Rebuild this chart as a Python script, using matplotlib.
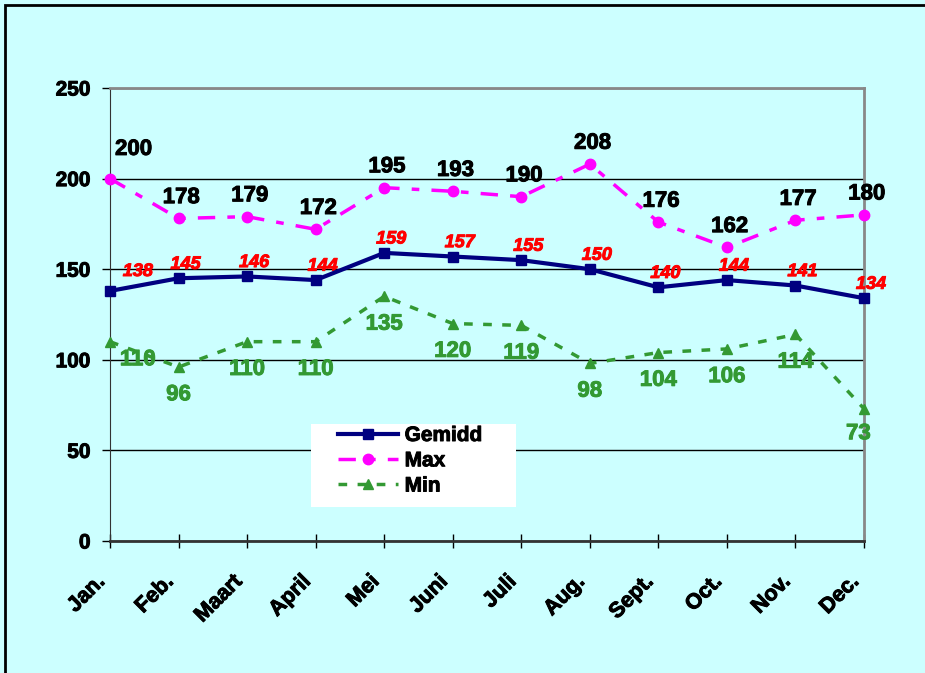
import numpy as np
import matplotlib.pyplot as plt
import matplotlib.patheffects as pe
from matplotlib.transforms import ScaledTranslation

months = ['Jan.', 'Feb.', 'Maart', 'April', 'Mei', 'Juni', 'Juli', 'Aug.',
          'Sept.', 'Oct.', 'Nov.', 'Dec.']
gemidd = [138, 145, 146, 144, 159, 157, 155, 150, 140, 144, 141, 134]
maxv = [200, 178, 179, 172, 195, 193, 190, 208, 176, 162, 177, 180]
minv = [110, 96, 110, 110, 135, 120, 119, 98, 104, 106, 114, 73]

plt.rcParams['font.family'] = ['Liberation Sans', 'DejaVu Sans']
bg = '#CCFFFF'
green = '#339933'


def heavy(color):
    # slight outline so the bold text looks as heavy as the original
    return [pe.withStroke(linewidth=0.7, foreground=color)]


fig = plt.figure(figsize=(9.25, 6.73), dpi=100, facecolor=bg)
ax = fig.add_axes([110 / 925, 1 - 541 / 673, 754 / 925, 453 / 673])
ax.set_facecolor(bg)

# outer frame of the chart area
fig.add_artist(plt.Rectangle((5 / 925, -0.01), 1.2, 1 - 5 / 673 + 0.01,
                             transform=fig.transFigure, fill=False,
                             edgecolor='black', lw=2))

x = np.arange(len(months))
ax.plot(x, gemidd, color='#000080', lw=3, marker='s', ms=6.5, label='Gemidd',
        zorder=4, clip_on=False)
ax.plot(x, maxv, color='#FF00FF', lw=2.5, ls=(0, (5, 3.5, 2.2, 3.5)),
        marker='o', ms=7.5, label='Max', zorder=4, clip_on=False)
ax.plot(x, minv, color=green, lw=2.5, ls=(0, (2.5, 3)), marker='^', ms=7.5,
        label='Min', zorder=4, clip_on=False)

for i in x:
    dx, dy = (20, 14) if i == 0 else (5, 10)
    ax.annotate(str(gemidd[i]), (i, gemidd[i]), xytext=(dx, dy),
                textcoords='offset points', ha='center', va='center',
                color='red', fontsize=13, fontweight='bold', style='italic',
                path_effects=heavy('red'))
    dx, dy = (17, 21) if i == 0 else (2, 15)
    ax.annotate(str(maxv[i]), (i, maxv[i]), xytext=(dx, dy),
                textcoords='offset points', ha='center', va='center',
                color='black', fontsize=16, fontweight='bold',
                path_effects=heavy('black'))
    dx, dy = (20, -13) if i == 0 else ((-4, -18) if i == 11 else (0, -20))
    ax.annotate(str(minv[i]), (i, minv[i]), xytext=(dx, dy),
                textcoords='offset points', ha='center', va='center',
                color=green, fontsize=16, fontweight='bold',
                path_effects=heavy(green))

ax.set_xlim(0, 11)
ax.set_ylim(0, 250)
ax.set_yticks([0, 50, 100, 150, 200, 250])
ax.set_xticks(x)
ax.tick_params(axis='x', direction='inout', length=10, width=1, pad=22)
ax.tick_params(axis='y', direction='out', length=6, width=1, pad=8)
ax.set_xticklabels(months, rotation=45, ha='right', va='center',
                   rotation_mode='anchor', fontsize=15.5, fontweight='bold')
shift = ScaledTranslation(-8 / 100, 0, fig.dpi_scale_trans)
for lab in ax.get_xticklabels():
    lab.set_path_effects(heavy('black'))
    lab.set_transform(lab.get_transform() + shift)
for lab in ax.get_yticklabels():
    lab.set_fontweight('bold')
    lab.set_fontsize(15)
    lab.set_path_effects(heavy('black'))
ax.grid(axis='y', color='black', lw=1)
ax.set_axisbelow(True)
ax.spines['left'].set_color('#333333')
ax.spines['bottom'].set_color('#333333')
ax.spines['bottom'].set_linewidth(2)
ax.spines['top'].set_color('#888888')
ax.spines['right'].set_color('#888888')
ax.spines['top'].set_linewidth(2)
ax.spines['right'].set_linewidth(2)

# white legend box
ax.add_patch(plt.Rectangle((311 / 925, 1 - 507 / 673), 205 / 925, 83 / 673,
                           transform=fig.transFigure, facecolor='white',
                           edgecolor='none', zorder=4.5, clip_on=False))
leg = ax.legend(loc='upper left', bbox_to_anchor=(338 / 925, 1 - 426 / 673),
                bbox_transform=fig.transFigure, frameon=False,
                prop={'weight': 'bold', 'size': 15}, handlelength=2.9,
                handletextpad=0.3, borderpad=0, labelspacing=0.3,
                borderaxespad=0)
leg.set_zorder(5)
for t in leg.get_texts():
    t.set_path_effects(heavy('black'))

fig.savefig('out.png', dpi=100, facecolor=bg)
